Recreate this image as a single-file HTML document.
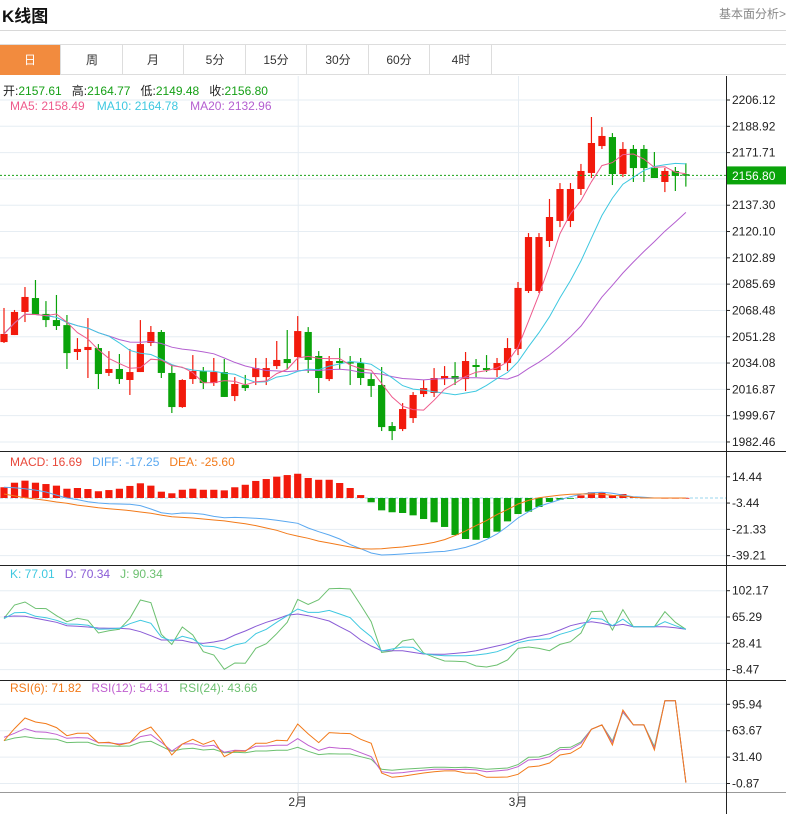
<!DOCTYPE html>
<html><head><meta charset="utf-8">
<style>
html,body{margin:0;padding:0;background:#fff;width:786px;height:814px;overflow:hidden;font-family:"Liberation Sans","Noto Sans CJK SC",sans-serif;}
#wrap{position:relative;width:786px;height:814px;}
.title{position:absolute;left:2px;top:2px;font-size:17px;font-weight:bold;color:#111;}
.more{position:absolute;right:0;top:5px;font-size:12px;color:#888;}
.hline{position:absolute;left:0;width:786px;height:1px;background:#d8d8d8;}
.tabs{position:absolute;left:0;top:44px;height:31px;width:786px;border-top:1px solid #ddd;border-bottom:1px solid #ddd;box-sizing:border-box;}
.tab{position:absolute;top:0;height:30px;width:61px;border-right:1px solid #ddd;box-sizing:border-box;text-align:center;line-height:30px;font-size:12px;color:#333;}
.tab.on{background:#f28b3e;color:#fff;}
svg{position:absolute;left:0;top:0;}
</style></head>
<body><div id="wrap">
<div class="title">K线图</div>
<div class="more">基本面分析&gt;</div>
<div class="hline" style="top:30px"></div>
<div class="tabs">
<div class="tab on" style="left:0">日</div>
<div class="tab" style="left:62px">周</div>
<div class="tab" style="left:123px">月</div>
<div class="tab" style="left:185px">5分</div>
<div class="tab" style="left:246px">15分</div>
<div class="tab" style="left:308px">30分</div>
<div class="tab" style="left:369px">60分</div>
<div class="tab" style="left:431px">4时</div>
</div>
<svg id="chart" width="786" height="814" style="top:0"></svg>
</div>
<script>
// ---- data ----
const opens=[2047.8,2052.4,2067.5,2076.6,2066.2,2062.2,2058.9,2041.3,2042.6,2043.9,2027.6,2030.2,2023.0,2028.2,2047.2,2054.4,2027.6,2005.3,2023.6,2028.9,2021.0,2028.2,2012.5,2019.7,2024.9,2024.9,2032.1,2036.7,2038.0,2054.4,2038.7,2023.6,2035.4,2034.7,2034.1,2023.6,2019.7,1992.9,1990.9,1998.1,2013.8,2014.5,2023.6,2025.6,2023.6,2032.8,2030.8,2029.5,2034.1,2043.3,2081.2,2081.2,2113.9,2127.0,2127.0,2147.9,2158.4,2176.0,2181.9,2157.7,2174.1,2174.1,2161.6,2152.5,2159.7,2157.61];
const highs=[2070.1,2068.8,2083.8,2088.4,2074.6,2078.6,2065.5,2050.4,2063.5,2046.5,2041.9,2040.0,2043.3,2062.2,2058.3,2055.7,2032.8,2023.5,2039.3,2031.5,2037.4,2036.7,2024.9,2026.3,2037.4,2037.4,2048.5,2055.7,2064.8,2057.6,2041.9,2038.7,2043.9,2038.7,2037.4,2027.6,2031.5,1995.5,2007.9,2015.1,2023.0,2030.8,2032.1,2034.7,2041.3,2036.7,2039.3,2037.4,2050.4,2087.1,2119.1,2119.1,2141.4,2151.8,2151.8,2164.3,2195.0,2188.4,2184.5,2178.6,2176.7,2176.7,2172.1,2161.6,2162.3,2164.77];
const lows=[2047.2,2052.4,2060.9,2065.5,2057.6,2055.7,2030.2,2036.1,2024.3,2017.1,2025.6,2020.4,2013.2,2028.2,2045.2,2024.3,2001.4,2004.8,2020.4,2017.1,2019.1,2011.9,2009.2,2015.8,2019.7,2019.7,2030.2,2030.2,2029.5,2027.6,2014.5,2022.3,2030.2,2019.7,2019.7,2011.9,1989.6,1983.7,1989.6,1994.9,2011.9,2011.9,2019.7,2019.7,2015.8,2024.9,2028.2,2024.9,2028.9,2039.3,2079.9,2079.9,2110.0,2123.0,2123.0,2144.0,2155.1,2174.1,2150.5,2155.7,2152.5,2152.5,2155.1,2145.9,2146.6,2149.48];
const closes=[2053.1,2067.5,2077.3,2065.5,2062.2,2058.3,2040.6,2043.3,2044.6,2026.9,2030.2,2023.6,2028.2,2046.5,2054.4,2027.6,2005.3,2023.0,2028.9,2021.0,2028.2,2011.9,2020.4,2017.7,2030.8,2030.8,2036.1,2034.1,2055.0,2036.1,2024.3,2035.4,2034.1,2034.1,2024.3,2019.1,1992.2,1989.6,2004.0,2013.2,2017.7,2024.3,2025.6,2023.6,2035.4,2031.5,2029.5,2034.1,2043.9,2083.2,2116.5,2116.5,2129.6,2147.9,2147.9,2159.7,2178.0,2182.6,2157.7,2174.1,2161.6,2161.6,2155.1,2159.7,2156.4,2156.80];
const macdHist=[7.3,10.4,11.8,10.4,9.5,8.4,6.3,6.8,6.1,4.6,5.4,6.3,8.2,10,8.4,4.3,3.2,5.6,6.3,5.6,5.6,5.2,7.3,9,11.6,12.9,14.5,15.6,16.5,13.6,12.4,12.4,10.2,6.8,2,-2.9,-8.4,-9.7,-10.2,-11.8,-14.3,-16.5,-19.7,-25.2,-27.9,-28.4,-27.2,-22.9,-15.9,-10.9,-9.3,-6.1,-2.7,-1.2,-0.5,1.8,3.9,3.9,1.6,2.7,0.7,0.3,0.2,0.1,0.1,0.1];
const diffVals=[7.3,7.0,6.3,5.4,4.1,2.0,0,-1.1,-2.5,-3.4,-3.9,-4.1,-4.3,-5.2,-7.5,-10,-10.9,-10.2,-10.4,-11.1,-12.5,-13.4,-13.2,-13.4,-13.8,-14.3,-15.2,-16.1,-17.2,-20.4,-22.9,-25.2,-27.9,-31.7,-34.5,-37.4,-38.8,-38.5,-38.1,-37.6,-37.2,-36.7,-36.3,-35.1,-33.6,-31.3,-28.3,-24.5,-19.3,-13.6,-9.3,-5.7,-3.4,-1.1,0.9,2.5,3.6,3.9,3.2,2.0,0.9,0.5,0,0,0,0];
const deaVals=[2.7,1.4,0.2,-0.7,-1.6,-2.7,-3.6,-4.8,-5.7,-6.6,-7.3,-7.9,-8.6,-9.5,-10.4,-11.6,-12.7,-13.2,-13.6,-14.3,-15,-15.6,-16.6,-17.5,-18.8,-20.4,-22,-24.3,-25.9,-27.4,-29.3,-30.6,-32,-33.3,-34.5,-34.7,-34.5,-33.8,-33.3,-32.4,-31.5,-30.2,-28.3,-25.6,-22.4,-18.8,-15.4,-11.3,-7.9,-4.1,-1.6,0.2,1.1,2,2.5,2.7,2.7,2.5,1.8,1.4,0.5,0,0,0,0,0];
const kVals=[62.9,71.3,71.8,66.2,64.3,60.6,55.4,55.0,53.6,48.0,48.4,49.4,55.9,60.6,56.4,37.3,31.6,38.2,34.4,24.6,23.7,20.0,26.0,29.3,41.9,48.0,57.8,67.1,76.5,71.8,71.8,74.6,69.5,64.3,49.4,37.7,17.6,20.4,23.2,22.7,13.8,12.0,11.0,11.0,11.0,12.0,13.8,16.6,22.2,29.3,32.5,33.9,34.9,41.0,45.2,50.8,63.4,62.4,53.1,62.4,51.7,51.7,51.7,58.7,53.1,48.0];
const dVals=[65.7,66.7,66.2,63.4,60.6,57.8,53.1,52.2,51.2,49.8,49.4,49.4,48.4,44.7,39.1,33.0,33.0,32.5,29.3,28.3,30.2,33.0,40.0,45.6,52.2,57.8,62.4,67.6,69.5,67.1,63.4,59.7,51.7,44.2,33.0,24.6,18.0,18.0,18.0,15.7,13.4,12.9,12.9,14.3,15.7,18.0,21.3,24.6,27.9,32.5,36.7,38.6,41.9,47.1,53.1,56.4,58.7,56.4,53.1,54.9,51.7,51.7,51.7,51.7,50.3,48.0];
const jVals=[63.4,82.1,86.3,77.4,77.0,67.1,58.7,63.4,60.6,42.8,46.1,48.0,63.4,89.1,85.4,41.0,26.9,51.2,40.0,16.6,12.0,-8.1,0.8,0.3,21.4,27.9,41.9,57.8,90.0,83.0,89.5,105,105.4,104.5,82.1,58.7,15.7,17.6,31.6,34.4,14.8,8.7,3.6,3.1,2.6,-3.4,-4.8,-2.0,5.0,21.3,23.2,21.3,18.0,26.9,30.6,42.8,72.7,73.6,46.9,75.6,51.7,51.7,51.7,72.7,57.8,48.0];
const rsi6=[51.5,66.2,79.2,74.3,72.3,67.4,57.6,60.5,60.5,48.7,49.5,46.2,49.1,62.5,68.2,53.1,34.0,47.4,53.1,47.0,51.9,31.9,38.9,38.5,48.3,48.3,51.9,51.5,71.9,59.7,49.1,61.3,60.5,60.1,53.1,48.3,12.0,6.7,7.9,10.0,12.0,13.6,14.5,14.5,12.0,11.6,6.7,6.7,7.1,10.4,19.3,20.5,24.2,34.0,36.0,43.8,65.4,70.7,46.2,89.0,70.7,70.7,40.1,100.4,100.4,0.2];
const rsi12=[55.6,60.5,66.2,62.5,61.7,59.3,54.4,55.2,54.8,49.1,48.7,47.4,49.1,56.4,58.9,49.5,38.9,47.4,47.8,44.6,45.8,37.2,39.7,39.3,44.6,45.0,45.8,45.8,54.0,45.8,39.7,43.4,42.1,41.7,36.8,31.9,13.6,11.6,12.4,14.1,15.3,16.5,16.5,16.1,16.5,15.7,13.6,14.5,15.7,19.7,27.9,28.7,31.9,40.5,40.9,48.3,65.4,70.7,49.1,87.0,70.7,70.7,42.1,100.4,100.4,0.2];
const rsi24=[51.5,54.8,56.4,54.4,53.6,53.2,49.1,49.5,49.5,45.4,45.0,44.6,45.0,49.5,50.7,44.6,38.5,41.3,42.1,40.1,40.9,36.8,37.2,36.8,38.9,38.9,39.7,39.7,43.4,38.5,34.4,35.6,35.2,35.2,31.9,28.7,16.5,15.3,16.5,17.3,18.1,18.9,18.9,18.5,18.9,18.1,16.5,17.3,18.1,22.2,31.1,31.5,35.2,43.0,43.4,49.9,65.4,70.7,51.1,86.2,70.7,70.7,44.2,100.4,100.4,0.2];
const priceTicks=["2206.12","2188.92","2171.71","2154.50","2137.30","2120.10","2102.89","2085.69","2068.48","2051.28","2034.08","2016.87","1999.67","1982.46"];
const macdTicks=["14.44","-3.44","-21.33","-39.21"];
const kdjTicks=["102.17","65.29","28.41","-8.47"];
const rsiTicks=["95.94","63.67","31.40","-0.87"];
const monthLabels=["2月","3月"];
const monthIdx=[28,49];

// ---- axes ----
const NS="http://www.w3.org/2000/svg";
const svg=document.getElementById('chart');
const xOf=i=>4+i*10.49;
const yPrice=p=>100+(2206.12-p)*1.529;
const yMacd=v=>498-v*1.47;
const yKdj=v=>590.7+(102.17-v)*0.713;
const yRsi=v=>704.3+(95.94-v)*0.818;
function mk(tag,attrs,parent){const e=document.createElementNS(NS,tag);for(const k in attrs)e.setAttribute(k,attrs[k]);(parent||svg).appendChild(e);return e;}
function txt(x,y,s,fill,size,anchor){const t=mk('text',{x:x,y:y,fill:fill,'font-size':size||12,'font-family':'"Liberation Sans","Noto Sans CJK SC",sans-serif','text-anchor':anchor||'start'});t.textContent=s;return t;}
function ma(n){return closes.map((c,i)=>{const s=Math.max(0,i-n+1);let t=0;for(let k=s;k<=i;k++)t+=closes[k];return t/(i-s+1);});}
function line(vals,yf,color,name){const pts=vals.map((v,i)=>xOf(i).toFixed(1)+','+yf(v).toFixed(1)).join(' ');const p=mk('polyline',{points:pts,fill:'none',stroke:color,'stroke-width':1});

return p;}

// grid lines
const grid=mk('g',{});


priceTicks.forEach((t,k)=>{const y=yPrice(parseFloat(t));mk('line',{x1:0,x2:726,y1:y,y2:y,stroke:'#e6edf3','stroke-width':1},grid);});
macdTicks.forEach(t=>{const y=yMacd(parseFloat(t));mk('line',{x1:0,x2:726,y1:y,y2:y,stroke:'#e6edf3'},grid);});
kdjTicks.forEach(t=>{const y=yKdj(parseFloat(t));mk('line',{x1:0,x2:726,y1:y,y2:y,stroke:'#e6edf3'},grid);});
rsiTicks.forEach(t=>{const y=yRsi(parseFloat(t));mk('line',{x1:0,x2:726,y1:y,y2:y,stroke:'#e6edf3'},grid);});
monthIdx.forEach(i=>{mk('line',{x1:xOf(i)+0.5,x2:xOf(i)+0.5,y1:76,y2:792,stroke:'#e6edf3'},grid);});

// panel borders
[[451.5,'macd-panel-top'],[565.5,'kdj-panel-top'],[680.5,'rsi-panel-top'],[792.5,'x-axis-line']].forEach(a=>{const l=mk('line',{x1:0,x2:786,y1:a[0],y2:a[0],stroke:a[1]=='x-axis-line'?'#999':'#222','stroke-width':1});

});
const ax=mk('line',{x1:726.5,x2:726.5,y1:76,y2:814,stroke:'#222'});



// tick labels
priceTicks.forEach(t=>{const y=yPrice(parseFloat(t));if(t==="2154.50")return;mk('line',{x1:726,x2:730,y1:y,y2:y,stroke:'#222'});const e=txt(732,y+4,t,'#222',12);

});
macdTicks.forEach(t=>{const y=yMacd(parseFloat(t));mk('line',{x1:726,x2:730,y1:y,y2:y,stroke:'#222'});const e=txt(732,y+4,t,'#222',12);

});
kdjTicks.forEach(t=>{const y=yKdj(parseFloat(t));mk('line',{x1:726,x2:730,y1:y,y2:y,stroke:'#222'});const e=txt(732,y+4,t,'#222',12);

});
rsiTicks.forEach(t=>{const y=yRsi(parseFloat(t));mk('line',{x1:726,x2:730,y1:y,y2:y,stroke:'#222'});const e=txt(732,y+4,t,'#222',12);

});
monthLabels.forEach((m,k)=>{const x=xOf(monthIdx[k]);mk('line',{x1:x,x2:x,y1:792,y2:796,stroke:'#999'});const e=txt(x,806,m,'#333',12,'middle');

});

// candles
const cg=mk('g',{});


opens.forEach((o,i)=>{const c=closes[i];const up=c>=o;const col=up?'#f21a0c':'#0aa30a';const x=xOf(i);
const w=mk('line',{x1:x,x2:x,y1:yPrice(highs[i]),y2:yPrice(lows[i]),stroke:col,'stroke-width':1.2},cg);
const top=yPrice(Math.max(o,c)),bot=yPrice(Math.min(o,c));
const r=mk('rect',{x:x-3.6,y:top,width:7.2,height:Math.max(1.5,bot-top),fill:col},cg);

});
line(ma(20),yPrice,'#b45fd0','ma20-line');
line(ma(10),yPrice,'#3ec8e0','ma10-line');
line(ma(5),yPrice,'#ee5a8c','ma5-line');

// last price
const lp=closes[closes.length-1];const ly=yPrice(lp);
const dl=mk('line',{x1:0,x2:726,y1:ly,y2:ly,stroke:'#19a319','stroke-dasharray':'2,2'});


const lb=mk('rect',{x:727,y:ly-9,width:59,height:18,fill:'#0aa30a'});


txt(732,ly+4.5,lp.toFixed(2),'#fff',12);

// MACD
const zl=mk('line',{x1:0,x2:726,y1:yMacd(0),y2:yMacd(0),stroke:'#9ad4ee','stroke-dasharray':'3,2'});


macdHist.forEach((v,i)=>{const x=xOf(i);const y0=yMacd(0),y1=yMacd(v);const r=mk('rect',{x:x-3.6,y:Math.min(y0,y1),width:7.2,height:Math.max(0.8,Math.abs(y1-y0)),fill:v>=0?'#f21a0c':'#0aa30a'});

});
line(diffVals,yMacd,'#5aa8f0','diff-line');
line(deaVals,yMacd,'#f27a1a','dea-line');
// KDJ
line(jVals,yKdj,'#6cc070','j-line');
line(dVals,yKdj,'#8a5cd6','d-line');
line(kVals,yKdj,'#3ec8e0','k-line');
// RSI
line(rsi24,yRsi,'#6cc070','rsi24-line');
line(rsi12,yRsi,'#c060d0','rsi12-line');
line(rsi6,yRsi,'#f27a1a','rsi6-line');

// legends
function legend(y,items,name){let x=10;const g=mk('g',{});


items.forEach(it=>{const t=txt(x,y,it[0],it[1],12);g.appendChild(t);x+=t.getComputedTextLength()+it[2];});}
// price info
(function(){let x=3;const g=mk('g',{});


[["开:","#222"],["2157.61","#16a016",10],["高:","#222"],["2164.77","#16a016",10],["低:","#222"],["2149.48","#16a016",10],["收:","#222"],["2156.80","#16a016",0]].forEach(it=>{const t=txt(x,95,it[0],it[1],12);g.appendChild(t);x+=t.getComputedTextLength()+(it[2]||0);});
})();
legend(110,[["MA5: 2158.49","#ee5a8c",12],["MA10: 2164.78","#3ec8e0",12],["MA20: 2132.96","#b45fd0",0]],'ma-legend');
legend(466,[["MACD: 16.69","#e8483a",10],["DIFF: -17.25","#5aa8f0",10],["DEA: -25.60","#f27a1a",0]],'macd-legend');
legend(578,[["K: 77.01","#3ec8e0",10],["D: 70.34","#8a5cd6",10],["J: 90.34","#6cc070",0]],'kdj-legend');
legend(692,[["RSI(6): 71.82","#f27a1a",10],["RSI(12): 54.31","#c060d0",10],["RSI(24): 43.66","#6cc070",0]],'rsi-legend');
</script>
</body></html>
